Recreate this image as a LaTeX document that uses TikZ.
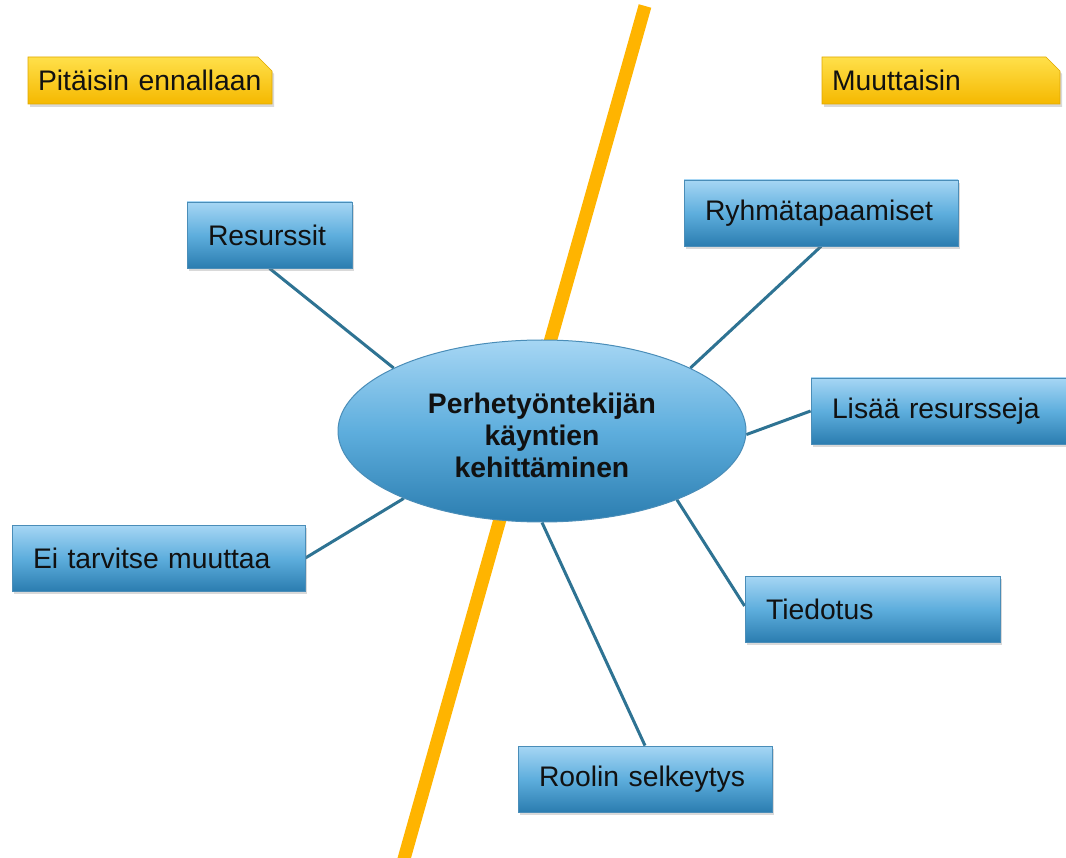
\documentclass[tikz,border=0pt]{standalone}
\usepackage{fontspec}
\setmainfont{Liberation Sans}
\usetikzlibrary{shapes.geometric,shapes.misc,shadows,backgrounds}
\definecolor{orangeline}{HTML}{FFB400}
\definecolor{conn}{HTML}{2E7393}
\definecolor{boxtop}{HTML}{A6D6F4}
\definecolor{boxmid}{HTML}{5EAEDD}
\definecolor{boxbot}{HTML}{2B7DB0}
\definecolor{boxline}{HTML}{4A8DB8}
\definecolor{tagtop}{HTML}{FFE04A}
\definecolor{tagbot}{HTML}{F5B800}
\definecolor{tagline}{HTML}{E0A800}
\definecolor{txt}{HTML}{111111}
\tikzset{
  mybox/.style={rectangle, draw=boxline, line width=0.8pt,
    top color=boxtop, bottom color=boxbot, middle color=boxmid,
    minimum height=66pt, inner xsep=21pt, inner ysep=0pt, align=left,
    font=\fontsize{28.3}{32}\selectfont, text=txt,
    drop shadow={opacity=0.3, shadow xshift=2pt, shadow yshift=-3pt}},
  mytag/.style={chamfered rectangle, chamfered rectangle corners=north east,
    chamfered rectangle xsep=7pt, chamfered rectangle ysep=7pt,
    draw=tagline, line width=0.6pt, top color=tagtop, bottom color=tagbot,
    minimum height=47pt, inner xsep=3pt, inner ysep=0pt, align=left,
    font=\fontsize{28.3}{32}\selectfont, text=txt,
    drop shadow={opacity=0.3, shadow xshift=2pt, shadow yshift=-3pt}},
  link/.style={draw=conn, line width=3pt},
  centre/.style={ellipse, draw=boxline, line width=1pt,
    top color=boxtop, bottom color=boxbot, middle color=boxmid,
    minimum width=408pt, minimum height=182pt, inner sep=0pt},
  centretext/.style={align=center, text=txt,
    font=\fontsize{28.3}{32}\selectfont\bfseries}
}
\begin{document}
\begin{tikzpicture}[x=1pt,y=-1pt]
\useasboundingbox (0,0) rectangle (1066,858);

% tags
\node[mytag, minimum width=230pt, text width=224pt] (pit) at (150,80.5) {Pitäisin ennallaan};
\node[mytag, minimum width=228pt, text width=218pt] (muu) at (941,80.5) {Muuttaisin};

% boxes
\node[mybox, minimum width=165pt, text width=123pt] (res) at (269.5,235) {Resurssit};
\node[mybox, minimum width=274pt, text width=232pt] (ryh) at (821,213) {Ryhmätapaamiset};
\node[mybox, minimum width=258pt, text width=216pt] (lis) at (940,411) {Lisää resursseja};
\node[mybox, minimum width=293pt, text width=251pt] (ei) at (158.5,558) {Ei tarvitse muuttaa};
\node[mybox, minimum width=255pt, text width=213pt] (tie) at (872.5,609) {Tiedotus};
\node[mybox, minimum width=254pt, text width=212pt] (rool) at (645,779) {Roolin selkeytys};

% centre ellipse
\node[centre, label={[centretext, yshift=-4pt]center:{Perhetyöntekijän\\käyntien\\kehittäminen}}] (c) at (542,431) {};

\begin{scope}[on background layer]
  % dividing line
  \coordinate (top) at (645,6);
  \coordinate (bot) at (402,866);
  \draw[orangeline, line width=13pt] (top) -- (bot);
  % connectors
  \draw[link] (res.south) -- (c.157);
  \draw[link] (ryh.south) -- (c.23);
  \draw[link] (lis.west) -- (c.359);
  \draw[link] (ei.east) -- (c.206);
  \draw[link] ([yshift=3pt]tie.west) -- (c.333);
  \draw[link] (rool.north) -- (c.270);
\end{scope}
\end{tikzpicture}
\end{document}
